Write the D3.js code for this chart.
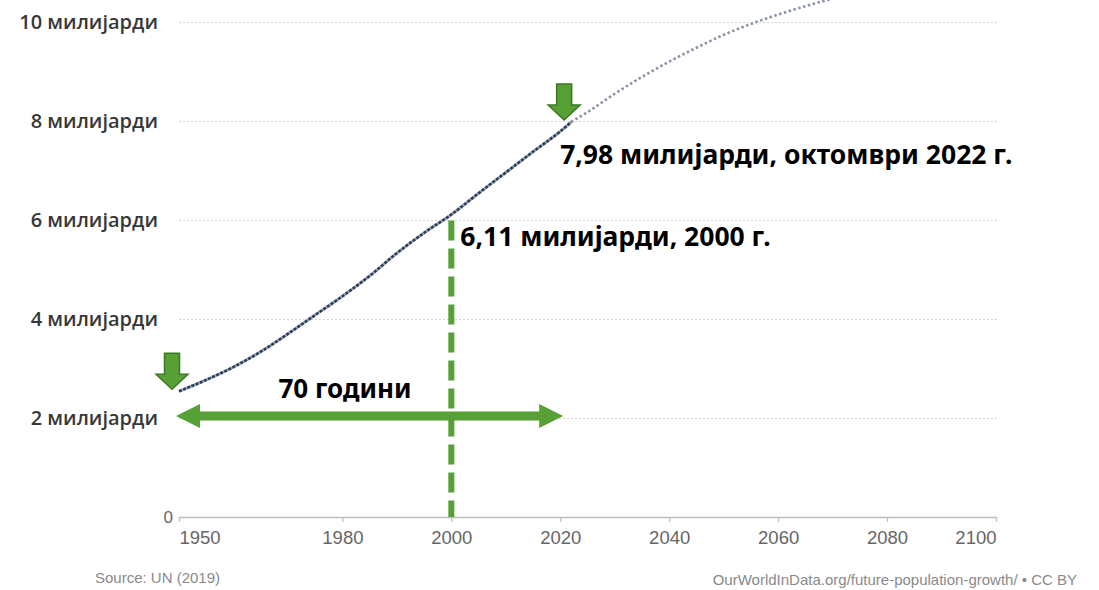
<!DOCTYPE html>
<html>
<head>
<meta charset="utf-8">
<script src="https://cdn.jsdelivr.net/npm/d3@7"></script>
<style>
  html, body { margin: 0; padding: 0; background: #fff; }
  svg { display: block; }
</style>
</head>
<body>
<svg id="chart" width="1099" height="590"></svg>
<script>
// World population (billions), UN estimates and medium-variant projection
const histYears = [1950, 1955, 1960, 1965, 1970, 1975, 1980, 1985, 1990, 1995, 2000, 2005, 2010, 2015, 2020, 2022];
const histPop   = [2.54, 2.77, 3.03, 3.34, 3.70, 4.08, 4.46, 4.87, 5.33, 5.74, 6.11, 6.54, 6.96, 7.38, 7.79, 7.98];
const projYears = [2022, 2025, 2030, 2035, 2040, 2045, 2050, 2055, 2060, 2065, 2070, 2075, 2080, 2085, 2090, 2095, 2100];
const projPop   = [7.98, 8.18, 8.55, 8.89, 9.20, 9.48, 9.74, 9.96, 10.15, 10.32, 10.47, 10.59, 10.69, 10.77, 10.82, 10.85, 10.88];

const xTicks = [1950, 1980, 2000, 2020, 2040, 2060, 2080, 2100];
const yTicks = [0, 2, 4, 6, 8, 10];
const yUnit = "милијарди";

// Highlighted points
const startYear = 1950, startPop = 2.54;
const midYear = 2000, midPop = 6.11;
const nowYear = 2022, nowPop = 7.98;
const spanLabel = "70 години";
const midLabel = "6,11 милијарди, 2000 г.";
const nowLabel = "7,98 милијарди, октомври 2022 г.";
const sourceText = "Source: UN (2019)";
const creditText = "OurWorldInData.org/future-population-growth/ • CC BY";

const svg = d3.select("#chart");
const x = d3.scaleLinear().domain([1950, 2100]).range([179, 996]);
const y = d3.scaleLinear().domain([0, 10]).range([517, 22]);

const green = "#56a036", greenDark = "#3b7a22";

// Dotted gridlines
const grid = svg.append("g").attr("transform", `translate(${x(1950)},0)`)
  .call(d3.axisLeft(y).tickValues(yTicks.filter(v => v > 0)).tickSize(-(x(2100) - x(1950) + 1)).tickFormat(""));
grid.select(".domain").remove();
grid.selectAll(".tick line").attr("stroke", "#d4d4d4").attr("stroke-width", 1).attr("stroke-dasharray", "2,2");

// Y labels
const yAxis = svg.append("g").attr("transform", "translate(158,0)")
  .call(d3.axisLeft(y).tickValues(yTicks).tickSize(0).tickPadding(0)
    .tickFormat(v => v === 0 ? "0" : `${v} ${yUnit}`));
yAxis.select(".domain").remove();
yAxis.selectAll(".tick text")
  .attr("font-family", "'Open Sans', 'Noto Sans', sans-serif")
  .attr("font-size", 20)
  .attr("fill", "#383838")
  .attr("font-weight", 600);
yAxis.selectAll(".tick").filter(d => d === 0).select("text")
  .attr("x", 15).attr("font-family", "'Liberation Sans', Arial, sans-serif")
  .attr("font-weight", 400).attr("font-size", 17).attr("fill", "#666");

// X axis
const xAxis = svg.append("g").attr("transform", `translate(0,${y(0)})`)
  .call(d3.axisBottom(x).tickValues(xTicks).tickSize(5).tickSizeOuter(0).tickPadding(9).tickFormat(d3.format("d")));
xAxis.select(".domain").attr("stroke", "#bdbdbd").attr("stroke-width", 1.5);
xAxis.selectAll(".tick line").attr("stroke", "#bdbdbd").attr("stroke-width", 1.2);
xAxis.selectAll(".tick text")
  .attr("font-family", "'Liberation Sans', Arial, sans-serif")
  .attr("font-size", 18.5).attr("fill", "#666")
  .attr("text-anchor", d => d === 1950 ? "start" : d === 2100 ? "end" : "middle");

// Population line
const line = d3.line().x(d => x(d[0])).y(d => y(d[1])).curve(d3.curveMonotoneX);
const hist = histYears.map((yr, i) => [yr, histPop[i]]);
const proj = projYears.map((yr, i) => [yr, projPop[i]]);

svg.append("path").datum(proj).attr("d", line)
  .attr("fill", "none").attr("stroke", "#8a93a8").attr("stroke-width", 2.6)
  .attr("stroke-dasharray", "2.5,2.5");
svg.append("path").datum(hist).attr("d", line)
  .attr("fill", "none").attr("stroke", "#a3adc0").attr("stroke-width", 3);
svg.append("path").datum(hist).attr("d", line)
  .attr("fill", "none").attr("stroke", "#2e3d5c").attr("stroke-width", 2.6)
  .attr("stroke-dasharray", "3,1.5");

// Vertical dashed marker at 2000
svg.append("line")
  .attr("x1", x(midYear)).attr("x2", x(midYear))
  .attr("y1", y(midPop) + 6).attr("y2", y(0))
  .attr("stroke", green).attr("stroke-width", 6).attr("stroke-dasharray", "20,8");

// Double-headed span arrow along the 2 billion line
function doubleArrow(x1, x2, yc) {
  const hl = 24, hw = 12, sw = 4.5;
  return `M${x1},${yc} L${x1 + hl},${yc - hw} L${x1 + hl},${yc - sw} L${x2 - hl},${yc - sw} L${x2 - hl},${yc - hw} L${x2},${yc} L${x2 - hl},${yc + hw} L${x2 - hl},${yc + sw} L${x1 + hl},${yc + sw} L${x1 + hl},${yc + hw} Z`;
}
svg.append("path")
  .attr("d", doubleArrow(x(startYear) - 3, x(nowYear) - 8, y(2) - 2))
  .attr("fill", green);

// Down arrows pointing at the start and the current values
function downArrow(tx, ty) {
  const w = 32, sw = 15, hh = 15, h = 36;
  return `M${tx - sw / 2},${ty - h} L${tx + sw / 2},${ty - h} L${tx + sw / 2},${ty - hh} L${tx + w / 2},${ty - hh} L${tx},${ty} L${tx - w / 2},${ty - hh} L${tx - sw / 2},${ty - hh} Z`;
}
[[startYear, startPop], [nowYear, nowPop]].forEach(([yr, v]) => {
  svg.append("path")
    .attr("d", downArrow(x(yr) - 7, y(v) - 2))
    .attr("fill", green).attr("stroke", greenDark).attr("stroke-width", 1.5);
});

// Annotation labels
const labelFont = "'Noto Sans', 'Open Sans', sans-serif";
svg.append("text").attr("x", 345).attr("y", 398)
  .attr("text-anchor", "middle").attr("font-family", labelFont).attr("font-weight", 700)
  .attr("font-size", 26).attr("fill", "#000").text(spanLabel);
svg.append("text").attr("x", x(midYear) + 9).attr("y", y(midPop) + 31)
  .attr("font-family", labelFont).attr("font-weight", 700)
  .attr("font-size", 26.5).attr("fill", "#000").text(midLabel);
svg.append("text").attr("x", x(nowYear) - 11).attr("y", y(nowPop) + 42)
  .attr("font-family", labelFont).attr("font-weight", 700)
  .attr("font-size", 26.5).attr("fill", "#000").text(nowLabel);

// Footer
svg.append("text").attr("x", 95).attr("y", 583)
  .attr("font-family", "'Liberation Sans', Arial, sans-serif").attr("font-size", 15)
  .attr("fill", "#8a8a8a").text(sourceText);
svg.append("text").attr("x", 1077).attr("y", 585).attr("text-anchor", "end")
  .attr("font-family", "'Liberation Sans', Arial, sans-serif").attr("font-size", 15)
  .attr("fill", "#8a8a8a").text(creditText);
</script>
</body>
</html>
